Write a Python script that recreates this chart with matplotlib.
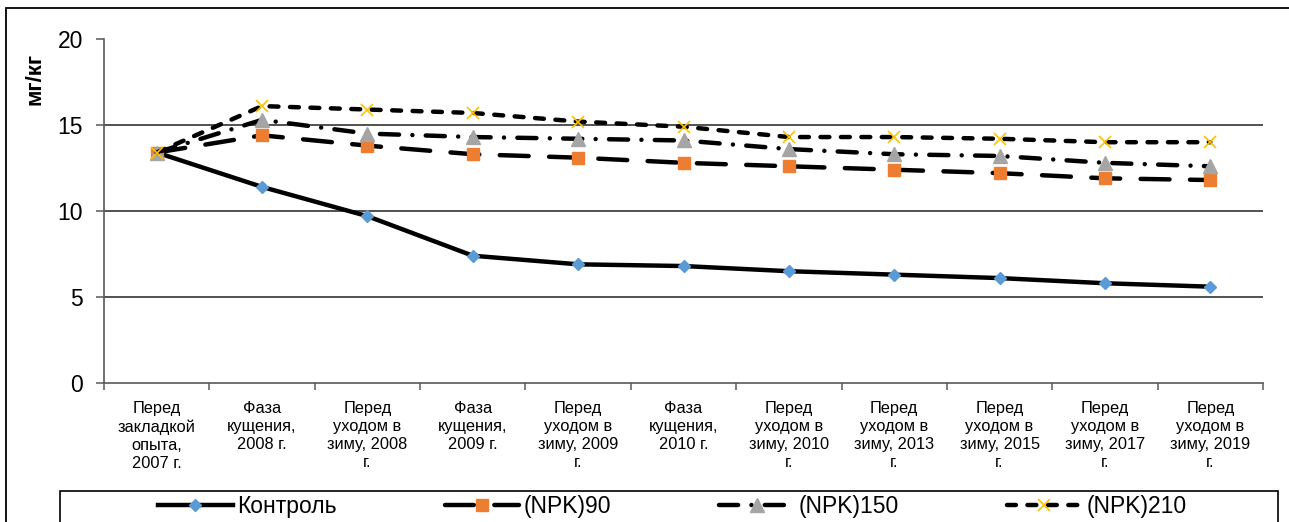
import matplotlib.pyplot as plt
from matplotlib.patches import Rectangle

plt.rcParams['font.family'] = ['Liberation Sans', 'DejaVu Sans']

categories = [
    "Перед\nзакладкой\nопыта,\n2007 г.",
    "Фаза\nкущения,\n2008 г.",
    "Перед\nуходом в\nзиму, 2008\nг.",
    "Фаза\nкущения,\n2009 г.",
    "Перед\nуходом в\nзиму, 2009\nг.",
    "Фаза\nкущения,\n2010 г.",
    "Перед\nуходом в\nзиму, 2010\nг.",
    "Перед\nуходом в\nзиму, 2013\nг.",
    "Перед\nуходом в\nзиму, 2015\nг.",
    "Перед\nуходом в\nзиму, 2017\nг.",
    "Перед\nуходом в\nзиму, 2019\nг.",
]
control = [13.4, 11.4, 9.7, 7.4, 6.9, 6.8, 6.5, 6.3, 6.1, 5.8, 5.6]
npk90 = [13.4, 14.4, 13.8, 13.3, 13.1, 12.8, 12.6, 12.4, 12.2, 11.9, 11.8]
npk150 = [13.4, 15.3, 14.5, 14.3, 14.2, 14.1, 13.6, 13.3, 13.2, 12.8, 12.6]
npk210 = [13.4, 16.1, 15.9, 15.7, 15.2, 14.9, 14.3, 14.3, 14.2, 14.0, 14.0]

fig = plt.figure(figsize=(12.89, 5.22), dpi=100)
ax = fig.add_axes([104 / 1289, 1 - 383 / 522, (1263 - 104) / 1289, (383 - 39) / 522])

x = range(len(categories))
lw = 3.2
ax.plot(x, control, color="black", lw=lw, marker="D", ms=6.3,
        mfc="#5B9BD5", mec="#5B9BD5", label="Контроль", zorder=3)
ax.plot(x, npk90, color="black", lw=lw, dashes=(6.5, 4.6), dash_capstyle="round",
        marker="s", ms=8.6, mfc="#ED7D31", mec="#ED7D31", label="(NPK)90", zorder=4)
ax.plot(x, npk150, color="black", lw=lw, dashes=(4.3, 3.0, 0.01, 3.0), dash_capstyle="round",
        marker="^", ms=9.5, mfc="#A5A5A5", mec="#A5A5A5", label="(NPK)150", zorder=5)
ax.plot(x, npk210, color="black", lw=lw, dashes=(2.0, 2.6), dash_capstyle="round",
        marker="x", ms=9, mew=1.2, mec="#FFC000", label="(NPK)210", zorder=6)

# horizontal gridlines
for yv in (5, 10, 15):
    ax.axhline(yv, color="#333333", lw=1.2, zorder=1)

ax.set_xlim(-0.5, len(categories) - 0.5)
ax.set_ylim(0, 20)
ax.set_yticks([0, 5, 10, 15, 20])
ax.tick_params(axis="y", direction="out", length=6, width=1.1, color="#595959",
               labelsize=16.5, pad=9)
ax.set_xticks(list(x))
ax.set_xticklabels(categories, fontsize=11.8, linespacing=1.25)
ax.set_xticks([i - 0.5 for i in range(len(categories) + 1)], minor=True)
ax.tick_params(axis="x", which="major", length=0, pad=13)
ax.tick_params(axis="x", which="minor", direction="out", length=5, width=1.1, color="#595959")

for side in ("top", "right"):
    ax.spines[side].set_visible(False)
for side in ("left", "bottom"):
    ax.spines[side].set_color("#595959")
    ax.spines[side].set_linewidth(1.2)

fig.text(35 / 1289, 1 - 79 / 522, "мг/кг", rotation=90, fontsize=16,
         fontweight="bold", ha="center", va="center")

# outer chart border and legend frame
fig.patches.append(Rectangle((6 / 1289, -0.1), 1.1, 1.1 - 8 / 522, transform=fig.transFigure,
                             fill=False, ec="black", lw=1.3))
fig.patches.append(Rectangle((60 / 1289, -0.1), (1278 - 60) / 1289, 0.1 + 1 - 491 / 522,
                             transform=fig.transFigure, fill=False, ec="black", lw=1.2))

fig.legend(loc="center", bbox_to_anchor=(672 / 1289, 1 - 507 / 522), ncol=4,
           frameon=False, fontsize=16.5, handlelength=3.27, handletextpad=0.2,
           columnspacing=4.7, borderpad=0)

fig.savefig("out.png", dpi=100)
